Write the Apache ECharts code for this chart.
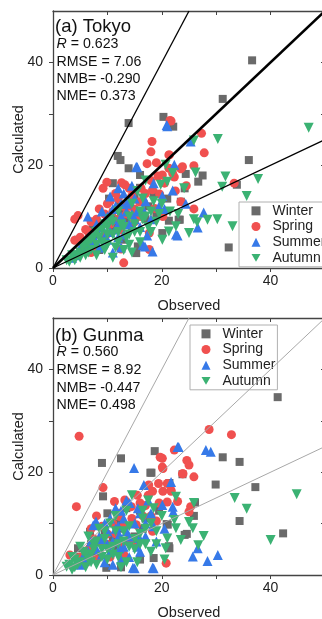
<!DOCTYPE html>
<html>
<head>
<meta charset="utf-8">
<script src="https://cdn.jsdelivr.net/npm/echarts@6/dist/echarts.min.js"></script>
<style>
  html, body { margin: 0; padding: 0; background: #fff; }
  #chart { width: 322px; height: 619px; }
</style>
</head>
<body>
<div id="chart"></div>
<script>
// Observed vs calculated concentrations, two sites, grouped by season.
const seasons = ['Winter', 'Spring', 'Summer', 'Autumn'];
const tickValues = [0, 20, 40];

// ---- (a) Tokyo ----
const tokyoWinter = [[36.6,40.4],[31.2,32.9],[20.3,29.4],[22.1,27.5],[36.0,21.0],[13.9,28.2],[11.9,21.8],[12.4,21.0],[13.9,19.4],[16.0,18.1],[24.4,18.3],[26.7,16.8],[24.2,15.5],[33.8,16.2],[21.3,9.2],[23.3,9.4],[20.1,6.8],[32.3,4.0],[11.0,16.5],[10.3,13.5],[4.6,5.5],[7.3,8.5],[15.3,2.9],[23.1,9.4],[23.5,12.9],[16.0,15.6],[7.7,8.1],[15.6,4.2],[12.3,12.3],[19.0,10.5],[14.5,8.0],[9.0,6.0],[17.5,12.0],[6.0,4.0],[11.5,9.5],[18.5,14.5],[13.0,5.5],[27.5,18.0],[8.5,3.5],[21.0,13.5],[10.0,9.0],[12.5,11.0],[13.5,9.0],[15.0,14.0],[8.0,6.5],[7.0,5.0],[5.5,5.0],[17.0,9.5],[11.0,8.0]];
const tokyoSpring = [[21.7,28.6],[27.3,26.2],[27.8,22.4],[21.3,22.0],[21.5,28.7],[18.2,24.6],[18.0,22.6],[17.3,20.3],[21.4,22.0],[19.3,17.9],[23.5,19.3],[22.3,17.7],[25.9,19.9],[23.8,19.7],[22.0,18.4],[20.1,18.1],[33.3,16.5],[23.5,12.9],[25.9,11.5],[21.3,19.4],[4.6,10.2],[4.0,5.4],[13.0,1.0],[12.5,3.7],[13.2,16.2],[9.2,15.5],[16.2,15.5],[18.3,15.2],[19.6,14.4],[15.9,12.9],[14.1,12.0],[12.5,7.4],[9.8,6.5],[7.6,4.2],[17.7,6.8],[20.2,10.0],[9.9,16.7],[12.6,16.6],[16.6,12.9],[18.7,11.6],[17.7,3.6],[11.0,11.0],[14.5,14.0],[8.0,9.5],[10.5,8.5],[6.5,7.0],[16.0,10.0],[19.0,20.5],[24.5,16.0],[12.0,13.5],[15.0,9.0],[22.5,15.0],[7.0,3.0],[13.5,10.5],[10.0,12.5],[20.5,16.5],[10.5,13.0],[11.5,14.5],[13.0,12.0],[8.5,11.5],[7.0,9.0],[6.0,7.5],[5.0,6.0],[12.0,9.5],[15.0,11.5],[17.0,14.5],[18.0,17.0],[14.0,15.5],[9.5,10.5],[4.0,9.5]];
const tokyoSummer = [[20.9,27.8],[25.3,24.6],[21.0,27.6],[15.5,19.6],[22.3,20.1],[22.0,15.1],[24.4,12.5],[27.7,10.8],[26.6,7.9],[22.9,6.3],[20.1,14.0],[6.4,10.0],[10.5,13.9],[16.5,4.5],[18.3,3.2],[22.6,6.5],[17.3,6.3],[15.3,19.7],[16.9,4.2],[11.0,11.5],[12.5,10.0],[13.5,12.5],[9.5,9.0],[8.0,7.0],[14.0,8.5],[15.5,11.0],[17.0,13.0],[11.5,7.5],[10.0,5.5],[7.0,5.0],[13.0,14.5],[18.0,9.5],[5.5,3.5],[19.5,12.0],[12.0,6.0],[14.5,16.0],[9.0,11.0],[16.0,8.0],[4.0,2.5],[8.5,4.0],[12.5,4.0],[18.5,16.5],[20.5,11.5],[11.0,3.0],[3.5,2.0],[6.5,6.0],[15.0,13.5],[13.0,9.0],[10.0,10.0],[11.0,9.5],[12.0,8.5],[13.5,11.0],[14.0,13.0],[12.5,12.5],[9.0,8.0],[8.0,8.5],[7.5,6.0],[6.0,4.5],[5.0,4.0],[13.0,6.5],[15.0,9.5],[16.5,11.5],[11.5,12.0],[10.5,7.0],[9.5,6.0],[4.5,3.0],[12.0,15.5],[14.5,10.5]];
const tokyoAutumn = [[47.0,27.3],[30.3,25.1],[25.9,24.8],[26.2,18.6],[31.7,17.8],[37.7,17.3],[31.1,15.8],[35.6,14.0],[24.1,15.5],[25.9,9.5],[28.4,9.4],[30.2,9.5],[33.0,8.1],[25.0,6.8],[26.5,8.9],[22.6,8.1],[21.3,7.1],[20.1,5.5],[21.0,16.8],[20.7,20.1],[19.8,16.2],[18.0,11.0],[16.5,9.5],[15.0,7.0],[14.0,10.0],[12.5,8.5],[11.0,6.5],[10.0,8.0],[9.0,5.0],[8.0,4.5],[7.0,3.5],[6.0,2.5],[5.0,2.0],[4.0,1.5],[3.0,1.2],[12.0,5.0],[13.5,6.0],[16.0,5.0],[17.5,8.0],[19.0,9.0],[14.5,12.5],[12.0,11.0],[10.5,9.5],[9.5,3.5],[8.0,2.5],[11.0,2.0],[16.5,13.5],[18.5,13.0],[21.5,11.0],[23.0,10.5],[13.0,3.5],[7.5,6.0],[17.0,17.0],[15.5,15.0],[6.0,4.5],[5.0,3.0],[10.0,4.5],[20.0,12.5],[22.0,18.5],[14.0,4.5],[4.5,2.5],[5.5,4.0],[6.5,3.0],[7.0,5.5],[8.5,6.0],[9.0,7.5],[10.0,6.5],[11.5,4.0],[12.0,7.0],[13.0,8.0],[14.0,6.5],[15.0,8.5],[16.0,11.0],[17.0,10.0],[18.0,7.0],[19.5,10.5],[11.0,9.0],[9.5,8.5],[8.0,7.0],[6.5,5.0],[3.5,2.5],[2.5,1.5],[14.5,3.0],[16.0,7.0]];
const tokyoStats = ['0.623', '7.06', '-0.290', '0.373'];

// ---- (b) Gunma ----
const gunmaWinter = [[41.3,34.6],[31.2,22.9],[34.3,22.0],[29.9,17.6],[37.2,17.1],[34.3,10.5],[42.3,8.1],[26.1,14.1],[25.9,11.5],[24.6,8.0],[20.9,9.9],[21.3,5.6],[23.8,19.6],[9.0,21.8],[12.5,22.7],[18.7,24.1],[17.9,19.9],[21.4,17.9],[9.2,15.3],[16.0,12.5],[4.6,5.2],[18.5,3.3],[21.1,9.8],[9.8,1.4],[21.4,5.2],[24.2,7.8],[6.8,8.4],[18.1,19.9],[12.0,10.0],[14.0,6.5],[8.0,4.0],[11.0,7.0],[16.5,9.0],[13.5,13.0],[6.0,2.5],[19.5,12.5],[10.0,12.0],[7.0,6.0],[9.5,8.0],[11.5,5.0],[13.0,9.0],[15.0,7.5],[17.0,11.0],[5.0,3.5],[12.5,1.5],[16.0,3.0]];
const gunmaSpring = [[4.8,27.0],[28.7,28.3],[32.8,27.3],[22.3,24.3],[20.1,22.7],[24.6,22.3],[25.0,21.4],[20.1,21.0],[23.8,19.7],[25.9,19.1],[21.0,17.8],[21.7,16.5],[25.0,12.3],[25.3,13.3],[21.0,14.2],[19.7,22.9],[20.2,20.7],[23.9,19.7],[19.4,17.8],[17.6,17.5],[9.2,17.0],[4.3,13.3],[11.3,14.3],[13.2,14.6],[14.4,13.3],[18.3,16.3],[20.2,16.3],[21.7,16.3],[22.9,14.3],[3.1,3.9],[8.6,6.5],[14.1,7.2],[20.8,2.3],[15.3,9.8],[12.2,11.4],[18.3,8.5],[6.7,5.2],[11.0,10.1],[16.5,11.5],[10.0,8.0],[13.0,4.0],[17.0,13.5],[8.0,11.5],[12.5,6.0],[15.5,15.5],[19.0,10.5],[7.0,9.0],[10.5,3.5],[5.0,3.5],[7.5,7.0],[9.0,9.5],[10.0,6.0],[11.5,8.0],[13.0,9.5],[14.5,11.0],[16.0,14.0],[17.5,15.5],[12.0,12.0],[8.0,3.0],[15.0,6.5],[18.0,11.5],[19.5,14.0]];
const gunmaSummer = [[23.1,24.9],[28.1,24.3],[29.0,24.0],[22.9,24.9],[14.9,20.8],[16.7,17.5],[21.7,18.1],[20.1,13.6],[22.1,12.3],[26.6,5.2],[25.7,3.6],[28.4,2.7],[30.3,3.9],[7.4,9.7],[18.5,1.3],[15.0,1.3],[7.9,10.4],[14.1,14.0],[15.6,13.0],[12.2,5.2],[14.7,1.4],[18.3,1.4],[22.0,13.3],[15.9,7.2],[12.2,7.8],[10.0,6.0],[11.5,9.0],[13.0,11.0],[9.0,4.0],[17.0,10.0],[16.0,4.5],[19.0,6.5],[6.0,3.0],[8.5,7.5],[14.0,3.5],[11.0,2.0],[17.5,14.5],[20.5,9.0],[12.5,12.5],[5.0,2.0],[10.5,11.0],[18.0,12.0],[13.5,8.5],[9.5,2.5],[8.0,5.0],[9.0,7.0],[10.0,8.5],[11.0,6.5],[12.0,9.5],[13.0,5.5],[14.0,7.5],[15.0,10.0],[16.0,12.0],[17.0,7.5],[7.0,6.5],[6.5,4.5],[5.5,3.5],[12.5,3.0],[15.5,5.5],[18.5,9.5],[10.5,4.5],[13.5,14.5],[11.5,13.0],[9.5,10.0]];
const gunmaAutumn = [[44.8,15.7],[33.4,15.0],[35.6,12.9],[40.0,6.8],[27.7,7.6],[26.7,5.8],[25.9,14.0],[25.0,10.3],[25.7,9.1],[23.5,6.8],[22.6,9.1],[21.0,7.1],[20.7,5.2],[22.6,15.2],[22.3,10.7],[2.5,1.6],[3.5,1.0],[4.0,3.0],[5.0,2.5],[6.0,1.5],[7.0,4.0],[8.0,2.0],[9.0,5.0],[10.0,3.0],[11.0,5.5],[12.0,3.5],[13.0,6.5],[14.0,9.5],[15.0,5.0],[16.0,8.0],[17.0,6.0],[18.0,4.5],[19.0,8.5],[20.0,11.5],[18.5,13.0],[16.5,11.0],[13.5,12.5],[11.5,8.5],[9.5,7.0],[7.5,6.0],[5.5,4.5],[12.5,1.5],[15.5,2.5],[8.5,9.0],[10.5,10.0],[17.5,14.5],[20.5,3.0],[6.5,7.5],[3.0,2.0],[14.5,15.5],[3.5,3.5],[4.5,2.0],[5.0,5.5],[6.0,4.0],[7.0,2.5],[7.5,5.0],[8.0,6.5],[9.0,3.5],[10.0,5.0],[11.0,4.0],[12.0,6.0],[13.0,8.5],[14.0,5.5],[15.0,7.0],[16.0,6.0],[17.0,9.0],[18.0,10.0],[19.0,6.0],[11.5,11.5],[9.5,8.5],[6.5,3.0],[4.0,1.5],[13.5,2.5],[16.5,12.5]];
const gunmaStats = ['0.560', '8.92', '-0.447', '0.498'];

// Reference lines 2:1, 1:1 and 1:2 through the origin
const line2to1 = [[0, 0], [25, 50]];
const line1to1 = [[0, 0], [50, 50]];
const line1to2 = [[0, 0], [50, 25]];

const colors = {
  Winter: '#6a6a6a',
  Spring: '#f0504f',
  Summer: '#3679e8',
  Autumn: '#3bb273'
};
const symbols = {
  Winter: { symbol: 'rect', size: 8 },
  Spring: { symbol: 'circle', size: 9 },
  Summer: { symbol: 'triangle', size: 10 },
  Autumn: { symbol: 'path://M0,0L10,0L5,8.66Z', size: 10 }
};

const FONT = '"Liberation Sans", Arial, sans-serif';
const AXIS_COLOR = '#444';

const panels = [
  { top: 11, title: '(a) Tokyo', stats: tokyoStats,
    data: { Winter: tokyoWinter, Spring: tokyoSpring, Summer: tokyoSummer, Autumn: tokyoAutumn },
    lineColor: '#000', lineWidths: [1.3, 2.6, 1.3],
    legend: { left: 239, top: 202, padding: [1, 20, 1, 12.5] },
    textY: [25.5, 43.5, 61.5, 78.5, 95.5] },
  { top: 318, title: '(b) Gunma', stats: gunmaStats,
    data: { Winter: gunmaWinter, Spring: gunmaSpring, Summer: gunmaSummer, Autumn: gunmaAutumn },
    lineColor: '#a8a8a8', lineWidths: [1, 1, 1],
    legend: { left: 190, top: 325, padding: [1, 2, 1, 11.5] },
    textY: [334, 351.5, 369.5, 387, 404.5] }
];

const PLOT_LEFT = 53, PLOT_W = 272, PLOT_H = 257;

const grid = [], xAxis = [], yAxis = [], series = [], legend = [], graphic = [];

function tickLabel(v) { return tickValues.indexOf(v) >= 0 ? String(v) : ''; }

panels.forEach((p, i) => {
  grid.push({ left: PLOT_LEFT, top: p.top, width: PLOT_W, height: PLOT_H, containLabel: false, outerBoundsMode: 'none' });
  const base = {
    gridIndex: i, type: 'value', min: 0, max: 50, interval: 10,
    splitLine: { show: false },
    axisLine: { show: true, onZero: false, lineStyle: { color: AXIS_COLOR, width: 1.3 } },
    axisTick: { show: true, length: 4, lineStyle: { color: AXIS_COLOR, width: 1 } }
  };
  xAxis.push(Object.assign({}, base, {
    position: 'bottom',
    name: 'Observed', nameLocation: 'middle', nameGap: 30, nameMoveOverlap: false,
    nameTextStyle: { fontFamily: FONT, fontSize: 14.5, color: '#222' },
    axisTick: Object.assign({}, base.axisTick, { inside: false }),
    axisLabel: { margin: 6, fontFamily: FONT, fontSize: 14, color: '#222', formatter: tickLabel, showMaxLabel: false }
  }));
  xAxis.push(Object.assign({}, base, {
    position: 'top',
    axisTick: Object.assign({}, base.axisTick, { inside: true }),
    axisLabel: { show: false }
  }));
  yAxis.push(Object.assign({}, base, {
    position: 'left',
    name: 'Calculated', nameLocation: 'middle', nameGap: 27, nameMoveOverlap: false,
    nameTextStyle: { fontFamily: FONT, fontSize: 14.5, color: '#222' },
    axisTick: Object.assign({}, base.axisTick, { inside: false }),
    axisLabel: { margin: 10, fontFamily: FONT, fontSize: 14, color: '#222', formatter: tickLabel, showMaxLabel: false }
  }));
  yAxis.push(Object.assign({}, base, {
    position: 'right',
    axisTick: Object.assign({}, base.axisTick, { inside: true }),
    axisLabel: { show: false }
  }));

  const xi = i * 2, yi = i * 2;
  seasons.forEach(s => {
    series.push({
      name: s, type: 'scatter', xAxisIndex: xi, yAxisIndex: yi,
      data: p.data[s], symbol: symbols[s].symbol, symbolSize: symbols[s].size,
      itemStyle: { color: colors[s], opacity: 1 }, z: 2, clip: true
    });
  });
  [line2to1, line1to1, line1to2].forEach((ln, k) => {
    series.push({
      type: 'line', xAxisIndex: xi, yAxisIndex: yi, data: ln,
      symbol: 'none', silent: true, z: 5, clip: true,
      lineStyle: { color: p.lineColor, width: p.lineWidths[k] }
    });
  });

  legend.push({
    data: seasons, orient: 'vertical',
    left: p.legend.left, top: p.legend.top, padding: p.legend.padding,
    itemWidth: 9, itemHeight: 9, itemGap: 0,
    borderColor: '#b0b0b0', borderWidth: 1, backgroundColor: '#fff',
    textStyle: { fontFamily: FONT, fontSize: 14, color: '#222', lineHeight: 15.7, padding: [0, 0, 0, 7] }
  });

  graphic.push({
    type: 'text', left: 55, top: p.textY[0] - 8, z: 10,
    style: { text: p.title, font: '18.5px ' + FONT, fill: '#111' }
  });
  const statLines = [
    '{i|R} = ' + p.stats[0],
    'RMSE = ' + p.stats[1],
    'NMB= ' + p.stats[2],
    'NME= ' + p.stats[3]
  ];
  statLines.forEach((t, k) => {
    graphic.push({
      type: 'text', left: 56.5, top: p.textY[k + 1] - 6, z: 10,
      style: {
        text: t, font: '14.2px ' + FONT, fill: '#111',
        rich: { i: { fontStyle: 'italic', fontSize: 14.2, fontFamily: FONT, fill: '#111' } }
      }
    });
  });
});

const chart = echarts.init(document.getElementById('chart'), null, { renderer: 'canvas' });
chart.setOption({
  animation: false,
  backgroundColor: '#fff',
  grid, xAxis, yAxis, series, legend, graphic
});
</script>
</body>
</html>
